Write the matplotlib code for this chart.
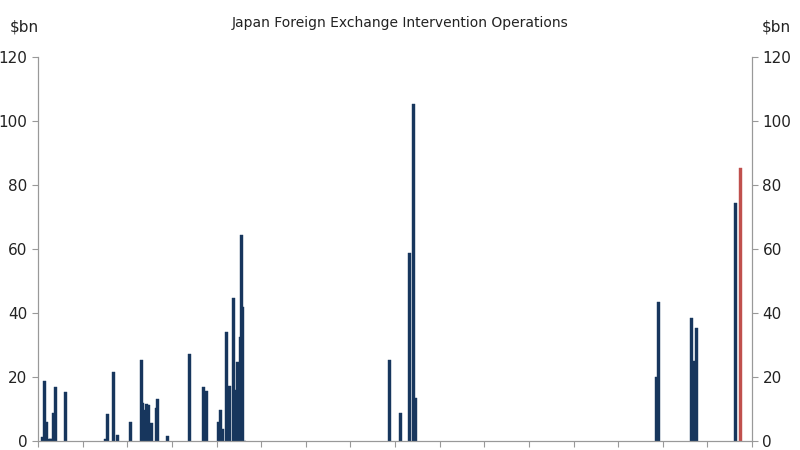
import matplotlib.pyplot as plt
import numpy as np

# month index on the time axis (approx.) and intervention size in $bn
months = [2.5, 3.3, 4.7, 5.5, 6.5, 7.5, 8.5, 9.5, 15, 103.5, 36.5, 37.5, 40.5, 42.5,
          49.5, 55.5, 56, 57.5, 58.2, 59.5, 61, 63.5, 64.5, 69.5, 81.5, 89, 90.5,
          97, 98, 99.1, 101.2, 102.2, 103.2, 105, 106, 107.5, 108.7, 110, 111.2,
          188.9, 194.8, 200, 201.7, 203, 332.6, 333.5, 351.2, 352.5, 354.3]
values = [1.3, 18.7, 6.0, 0.7, 0.7, 0.7, 8.9, 17.0, 15.3, 64.4, 0.5, 8.4, 21.6, 1.9,
          5.9, 25.3, 11.8, 9.7, 11.5, 11.4, 5.7, 10.2, 13.2, 1.5, 27.2, 17.0, 15.5,
          5.8, 9.7, 3.6, 34.2, 5.7, 17.3, 44.6, 16.0, 24.6, 32.6, 42.0, 0,
          25.3, 8.6, 58.8, 105.5, 13.3, 20.1, 43.3, 38.5, 25.0, 35.3]
# last two operations (latest highlighted)
last_months = [375, 378]
last_values = [74.3, 85.2]
last_colors = ['#17365d', '#c0504d']

navy = '#17365d'
fig = plt.figure(figsize=(8, 4.5), dpi=100)
ax = fig.add_axes([0.0475, 0.02, 0.8925, 0.853])

# put the 64.4 bar back in its true slot
months[9] = 109.2
ax.bar(months, values, width=1.6, color=navy, edgecolor=navy, linewidth=0.3)
ax.bar(last_months, last_values, width=1.6, color=last_colors, edgecolor=last_colors, linewidth=0.3)

ax.set_xlim(0, 384)
ax.set_ylim(0, 120)
ax.set_xticks(np.arange(0, 385, 24))
ax.set_xticklabels([])
ax.set_yticks(np.arange(0, 121, 20))
ax.tick_params(axis='x', direction='out', length=4, color='#999999')
ax.tick_params(axis='y', direction='out', length=4, color='#999999', labelsize=11, labelcolor='#222222')
ax.spines['top'].set_visible(False)
for s in ['left', 'right', 'bottom']:
    ax.spines[s].set_color('#999999')

ax2 = ax.twinx()
ax2.set_ylim(0, 120)
ax2.set_yticks(np.arange(0, 121, 20))
ax2.tick_params(axis='y', direction='out', length=4, color='#999999', labelsize=11, labelcolor='#222222')
ax2.spines['top'].set_visible(False)
for s in ['left', 'right', 'bottom']:
    ax2.spines[s].set_color('#999999')

fig.text(0.5, 0.95, 'Japan Foreign Exchange Intervention Operations', ha='center', va='center', fontsize=10, color='#222222')
fig.text(0.012, 0.94, '$bn', ha='left', va='center', fontsize=11, color='#222222')
fig.text(0.988, 0.94, '$bn', ha='right', va='center', fontsize=11, color='#222222')

fig.savefig('out.png', dpi=100)
